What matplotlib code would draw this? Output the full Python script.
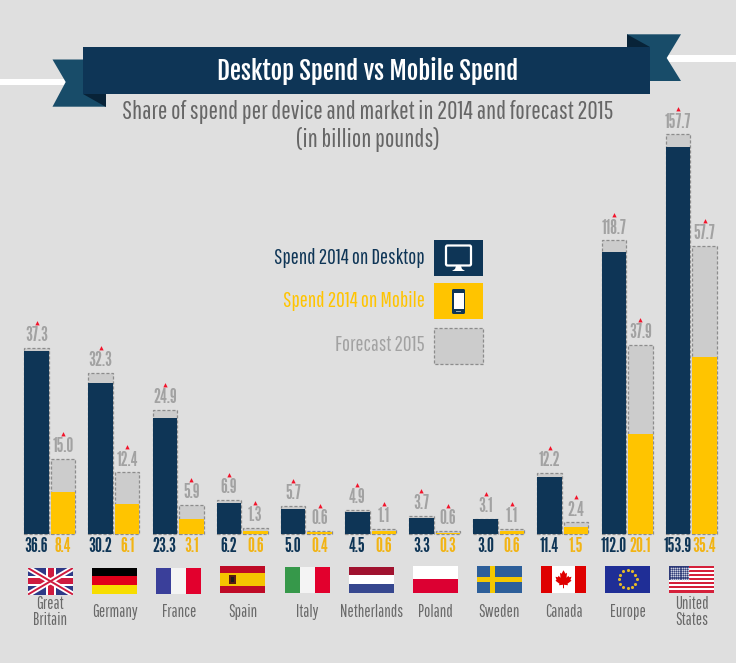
"""Desktop vs mobile spend infographic."""
import matplotlib
matplotlib.use('Agg')
import matplotlib.pyplot as plt
import numpy as np
from matplotlib.patches import Polygon, Rectangle, FancyBboxPatch
from matplotlib.transforms import blended_transform_factory

W, H = 736, 663
BASE_Y = 534      # pixel row of the bar baseline
UNIT = 5.0        # pixels per billion on the chart's main scale
GROUP_W = 64.15
GROUP_0 = 49.75

NAVY = '#0E3556'
TAIL = '#184C69'
FOLD = '#082338'
YELLOW = '#FFC400'
YELLOW_TXT = '#F2B414'
FORECAST = '#CCCCCC'
DASH = '#8C8C8C'
BG = '#DFDFDF'
GREY_TXT = '#A2A2A2'
NAME_TXT = '#696969'
RED = '#F2142B'

# condensed faces first, the plain installed families as fallback
FONT = ['Pathway Gothic One', 'Archivo Narrow', 'Liberation Sans', 'DejaVu Sans']
FONT_NUM = ['League Gothic', 'Pathway Gothic One', 'Archivo Narrow', 'Liberation Sans', 'DejaVu Sans']
FONT_TITLE = ['Fjalla One', 'Oswald', 'Archivo Narrow', 'Liberation Sans', 'DejaVu Sans']

markets = ['Great\nBritain', 'Germany', 'France', 'Spain', 'Italy', 'Netherlands',
           'Poland', 'Sweden', 'Canada', 'Europe', 'United\nStates']
desktop_2014 = [36.6, 30.2, 23.3, 6.2, 5.0, 4.5, 3.3, 3.0, 11.4, 112.0, 153.9]
mobile_2014 = [8.4, 6.1, 3.1, 0.6, 0.4, 0.6, 0.3, 0.6, 1.5, 20.1, 35.4]
desktop_2015 = [37.3, 32.3, 24.9, 6.9, 5.7, 4.9, 3.7, 3.1, 12.2, 118.7, 157.7]
mobile_2015 = [15.0, 12.4, 5.9, 1.3, 0.6, 1.1, 0.6, 1.1, 2.4, 37.9, 57.7]
# the two big desktop columns are drawn on a compressed scale in the original
desktop_scale = [1, 1, 1, 1, 1, 1, 1, 1, 1, 0.503, 0.503]
desktop_fc_scale = [1, 1, 1, 1, 1, 1, 1, 1, 1, 0.495, 0.507]

BAR_W = 24.5 / GROUP_W
OFF = 13.25 / GROUP_W
HAT = [(-1, -0.4), (-0.45, -0.4), (0, 0.5), (0.45, -0.4), (1, -0.4), (-1, -0.4)]

fig = plt.figure(figsize=(W / 100, H / 100), dpi=100, facecolor=BG)

# chart axes: x is the market index, y is billions on the main scale
ax = fig.add_axes([0, 0, 1, 1])
ax.set_xlim(-GROUP_0 / GROUP_W, (W - GROUP_0) / GROUP_W)
ax.set_ylim((BASE_Y - H) / UNIT, BASE_Y / UNIT)
ax.axis('off')

# overlay in pixel coordinates for ribbon, legend and flags
deco = fig.add_axes([0, 0, 1, 1])
deco.set_xlim(0, W)
deco.set_ylim(H, 0)
deco.axis('off')
deco.patch.set_alpha(0)


def draw_bars(xs, spend, forecast, spend_scale, fc_scale, color, txt_color):
    spend_h = np.array(spend) * np.array(spend_scale)
    fc_h = np.array(forecast) * np.array(fc_scale)
    ax.bar(xs, fc_h, width=BAR_W, color=FORECAST, edgecolor=DASH, linewidth=0.9,
           linestyle=(0, (2.5, 1.5)), zorder=2)
    ax.bar(xs, spend_h, width=BAR_W, color=color, edgecolor='none', zorder=3)
    for x, s, f, top in zip(xs, spend, forecast, fc_h):
        ax.text(x, top + 2.4, f'{f:.1f}', color=GREY_TXT, ha='center', va='center',
                fontsize=14, family=FONT_NUM, zorder=4)
        ax.text(x, -2.55, f'{s:.1f}', color=txt_color, ha='center', va='center',
                fontsize=14, family=FONT_NUM, zorder=4)
    ax.scatter(xs, fc_h + 5, marker=HAT, s=48, color=RED, linewidths=0, zorder=4)


x = np.arange(len(markets))
draw_bars(x - OFF, desktop_2014, desktop_2015, desktop_scale, desktop_fc_scale, NAVY, NAVY)
draw_bars(x + OFF, mobile_2014, mobile_2015, [1] * len(x), [1] * len(x), YELLOW, YELLOW_TXT)

# market names
name_tf = blended_transform_factory(ax.transData, deco.transData)
for i, name in enumerate(markets):
    ax.text(i + 0.01, 612, name, transform=name_tf, color=NAME_TXT, ha='center', va='center',
            fontsize=12, family=FONT, linespacing=1.0)

# --- ribbon ---
deco.add_patch(Rectangle((0, 79), 70, 6, color='white', lw=0, zorder=1))
deco.add_patch(Rectangle((660, 55), 76, 7, color='white', lw=0, zorder=1))
deco.add_patch(Polygon([(52.5, 59.5), (90, 59.5), (106, 106.7), (52.5, 106.7), (65.7, 82)],
                       color=TAIL, lw=0, zorder=2))
deco.add_patch(Polygon([(627, 34.3), (681, 34.3), (666.7, 58), (681, 81), (627, 81)],
                       color=TAIL, lw=0, zorder=2))
deco.add_patch(Polygon([(83, 94), (106, 94), (106, 106.7)], color=FOLD, lw=0, zorder=3))
deco.add_patch(Polygon([(627, 34.3), (650, 47), (627, 47)], color=FOLD, lw=0, zorder=3))
deco.add_patch(Rectangle((83, 47), 567, 47, color=NAVY, lw=0, zorder=4))
deco.text(368, 71, 'Desktop Spend vs Mobile Spend', color='white', ha='center', va='center',
          fontsize=18, family=FONT_TITLE, zorder=5)
deco.text(368, 112, 'Share of spend per device and market in 2014 and forecast 2015',
          color='#666666', ha='center', va='center', fontsize=18.2, family=FONT)
deco.text(368, 139, '(in billion pounds)', color='#666666', ha='center', va='center',
          fontsize=18.2, family=FONT)

# --- legend ---
deco.add_patch(Rectangle((434, 240), 49, 36, color=NAVY, lw=0))
deco.add_patch(Rectangle((434, 283), 49, 36, color=YELLOW, lw=0))
deco.add_patch(Rectangle((434, 328), 49, 36, facecolor=FORECAST, edgecolor=DASH, lw=0.9,
                         linestyle=(0, (2.5, 1.5))))
legend_labels = ['Spend 2014 on Desktop', 'Spend 2014 on Mobile', 'Forecast 2015']
legend_colors = [NAVY, YELLOW, GREY_TXT]
for label, col, y in zip(legend_labels, legend_colors, [258, 301, 345]):
    deco.text(425, y, label, color=col, ha='right', va='center', fontsize=15.3, family=FONT)
# monitor icon
deco.add_patch(FancyBboxPatch((446, 245.5), 25, 20, boxstyle='round,pad=0,rounding_size=1.5',
                              facecolor=NAVY, edgecolor='white', lw=1.6))
deco.add_patch(Polygon([(456, 266), (461, 266), (462, 269), (465, 271), (452, 271), (455, 269)],
                       color='white', lw=0))
# phone icon
deco.add_patch(FancyBboxPatch((452, 289), 13, 25, boxstyle='round,pad=0,rounding_size=1.5',
                              facecolor=NAVY, edgecolor='none'))
deco.add_patch(Rectangle((453.5, 293), 10, 16, color='white', lw=0))
deco.add_patch(Rectangle((456, 310.5), 5, 1.2, color='#9AA8B5', lw=0))


# --- flags ---
def bands(left, top, fw, fh, colors, vertical=False):
    n = len(colors)
    for k, c in enumerate(colors):
        if vertical:
            deco.add_patch(Rectangle((left + k * fw / n, top), fw / n, fh, color=c, lw=0))
        else:
            deco.add_patch(Rectangle((left, top + k * fh / n), fw, fh / n, color=c, lw=0))


def flag_gb(l, t, w, h):
    bg = Rectangle((l, t), w, h, color='#2E3A87', lw=0)
    deco.add_patch(bg)
    for (a, b), lw_, col in [(((l, t), (l + w, t + h)), 4.0, 'white'),
                             (((l, t + h), (l + w, t)), 4.0, 'white'),
                             (((l, t), (l + w, t + h)), 1.4, '#CF1B3F'),
                             (((l, t + h), (l + w, t)), 1.4, '#CF1B3F')]:
        line, = deco.plot([a[0], b[0]], [a[1], b[1]], color=col, lw=lw_, solid_capstyle='butt')
        line.set_clip_path(bg)
    deco.add_patch(Rectangle((l + w / 2 - 5, t), 10, h, color='white', lw=0))
    deco.add_patch(Rectangle((l, t + h / 2 - 5), w, 10, color='white', lw=0))
    deco.add_patch(Rectangle((l + w / 2 - 3, t), 6, h, color='#CF1B3F', lw=0))
    deco.add_patch(Rectangle((l, t + h / 2 - 3), w, 6, color='#CF1B3F', lw=0))


def flag_spain(l, t, w, h):
    bands(l, t, w, h, ['#BE0A26', '#F5C400', '#F5C400', '#BE0A26'])
    deco.add_patch(Rectangle((l + 9, t + 9), 7, 9, color='#5A1A12', lw=0))
    deco.add_patch(Rectangle((l + 11, t + 11), 3, 5, color='#1A1A1A', lw=0))


def flag_sweden(l, t, w, h):
    deco.add_patch(Rectangle((l, t), w, h, color='#2D5F9A', lw=0))
    deco.add_patch(Rectangle((l + 13, t), 5, h, color='#F5C800', lw=0))
    deco.add_patch(Rectangle((l, t + h / 2 - 2.5), w, 5, color='#F5C800', lw=0))


def flag_canada(l, t, w, h):
    bands(l, t, w, h, ['#DF0000', 'white', 'white', '#DF0000'], vertical=True)
    cx, cy = l + w / 2, t + h / 2
    leaf = [(0, -9), (2, -5.5), (3.5, -6.5), (3, -1.5), (5, -3.5), (5.5, -2), (8, -2.5),
            (7, 0.5), (8, 1.5), (4, 4.5), (4.5, 6), (0.5, 5.5), (0.5, 9), (-0.5, 9),
            (-0.5, 5.5), (-4.5, 6), (-4, 4.5), (-8, 1.5), (-7, 0.5), (-8, -2.5),
            (-5.5, -2), (-5, -3.5), (-3, -1.5), (-3.5, -6.5), (-2, -5.5)]
    deco.add_patch(Polygon([(cx + a, cy + b) for a, b in leaf], color='#DF0000', lw=0))


def flag_eu(l, t, w, h):
    deco.add_patch(Rectangle((l, t), w, h, color='#1F2E96', lw=0))
    ang = np.arange(12) * np.pi / 6
    deco.scatter(l + w / 2 + 9 * np.cos(ang), t + h / 2 + 9 * np.sin(ang), marker='o', s=5,
                 color='#E3B92A', linewidths=0, zorder=3)


def flag_us(l, t, w, h):
    bands(l, t, w, h, ['#D5203A', 'white'] * 6 + ['#D5203A'])
    deco.add_patch(Rectangle((l, t), 20, 14, color='#2E3A78', lw=0))
    px = np.arange(l + 1.5, l + 20, 2.2)
    py = np.arange(t + 1.5, t + 14, 2.2)
    gx, gy = np.meshgrid(px, py)
    deco.scatter(gx.ravel(), gy.ravel(), marker='o', s=1.5, color='#C8CCDD', linewidths=0, zorder=3)


flag_left = [28, 92, 156, 220, 285, 348.5, 413, 477, 541, 605, 669]
flag_top = [568, 567.5, 567.5, 566, 566.5, 566.5, 566, 566, 566, 566, 566]
FW, FH = 45, 26.5
flag_gb(flag_left[0], flag_top[0], FW, FH)
bands(flag_left[1], flag_top[1], FW, FH, ['#000000', '#E2001A', '#F7DD00'])
bands(flag_left[2], flag_top[2], FW, FH, ['#3A3F9A', '#F4F4F4', '#E2002D'], vertical=True)
flag_spain(flag_left[3], flag_top[3], FW, FH)
bands(flag_left[4], flag_top[4], FW, FH, ['#36984A', '#F4F4F4', '#E2002D'], vertical=True)
bands(flag_left[5], flag_top[5], FW, FH, ['#A0122F', 'white', '#36478F'])
bands(flag_left[6], flag_top[6], FW, FH, ['white', '#DC0032'])
flag_sweden(flag_left[7], flag_top[7], FW, FH)
flag_canada(flag_left[8], flag_top[8], FW, FH)
flag_eu(flag_left[9], flag_top[9], FW, FH)
flag_us(flag_left[10], flag_top[10], FW, FH)

fig.savefig('out.png', dpi=100, facecolor=BG)
